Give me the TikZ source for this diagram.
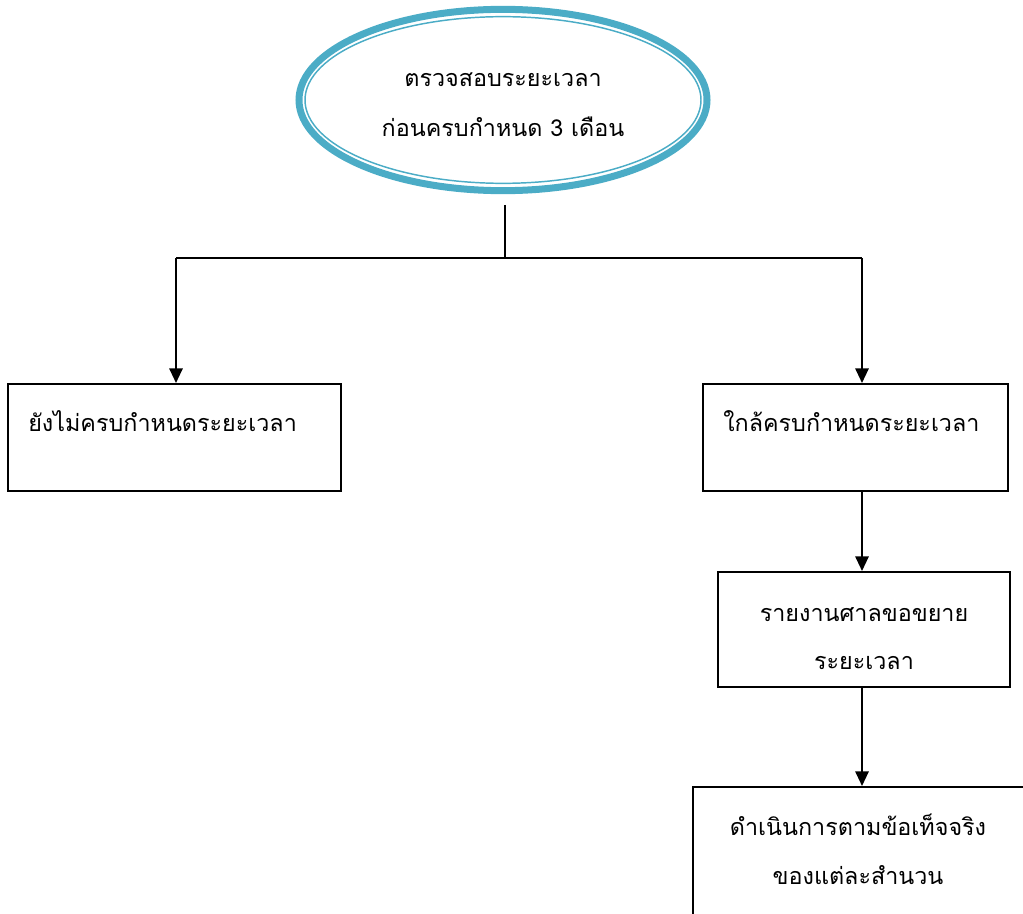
\documentclass[tikz,border=0pt]{standalone}
\usepackage{fontspec}
\newfontfamily\thai[Script=Thai]{Loma}
\usetikzlibrary{arrows.meta,shapes.geometric}
\definecolor{aqua}{HTML}{4BACC6}
\begin{document}
\begin{tikzpicture}[x=0.75pt,y=-0.75pt,
  box/.style={draw=black,line width=1.5pt,rectangle,inner sep=0pt},
  txt/.style={font=\thai\fontsize{17.5}{20}\selectfont,inner sep=0pt,anchor=base},
  conn/.style={line width=1.5pt},
  arr/.style={line width=1.5pt,-{Triangle[width=10pt,length=11pt]}}]
\useasboundingbox (0,0) rectangle (1023,913);
\clip (0,0) rectangle (1023,913);
% top ellipse
\node[ellipse,draw=aqua,line width=5.25pt,minimum width=306pt,minimum height=136pt,inner sep=0pt] (top) at (503,100) {};
\node[ellipse,draw=aqua,line width=1.1pt,minimum width=297pt,minimum height=125pt,inner sep=0pt] (topin) at (503,100) {};
\node[txt] (t1) at (503,87) {ตรวจสอบระยะเวลา};
\node[txt] (t2) at (503,137) {ก่อนครบกำหนด 3 เดือน};
% boxes
\node[box,minimum width=249.75pt,minimum height=80.25pt] (b1) at (174.5,437.5) {};
\node[box,minimum width=228.75pt,minimum height=80.25pt] (b2) at (855.5,437.5) {};
\node[box,minimum width=219pt,minimum height=86.25pt] (b3) at (864,629.5) {};
\node[box,minimum width=267.75pt,minimum height=129.75pt] (b4) at (871.5,873.5) {};
\node[txt,anchor=base west] (l1) at (28,431) {ยังไม่ครบกำหนดระยะเวลา};
\node[txt,anchor=base west] (l2) at (723,431) {ใกล้ครบกำหนดระยะเวลา};
\node[txt] (l3a) at (864,621) {รายงานศาลขอขยาย};
\node[txt] (l3b) at (864,669) {ระยะเวลา};
\node[txt] (l4a) at (858,835) {ดำเนินการตามข้อเท็จจริง};
\node[txt] (l4b) at (858,884) {ของแต่ละสำนวน};
% connectors
\coordinate (j) at (505,258);
\coordinate (jl) at (176,258);
\coordinate (jr) at (862,258);
\draw[conn] ([yshift=-8pt]j |- top.south) -- (j);
\draw[conn] (jl) -- (jr);
\draw[arr] (jl) -- (jl |- b1.north);
\draw[arr] (jr) -- (jr |- b2.north);
\draw[arr] (jr |- b2.south) -- (jr |- b3.north);
\draw[arr] (jr |- b3.south) -- (jr |- b4.north);
\end{tikzpicture}
\end{document}
